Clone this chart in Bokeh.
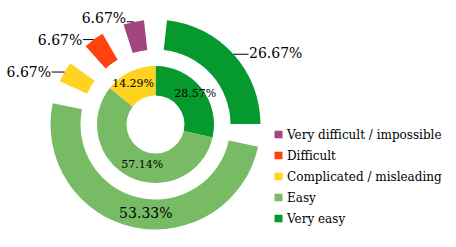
import math
from bokeh.plotting import figure
from bokeh.models import Range1d, ColumnDataSource
from bokeh.embed import file_html
from bokeh.resources import INLINE
from bokeh.core.properties import value

# ---- data ----
categories = ["Very easy", "Easy", "Complicated / misleading", "Difficult",
              "Very difficult / impossible"]
colors = ["#069A2E", "#77BC65", "#FFD320", "#FF420E", "#A1467E"]
inner_values = [28.57, 57.14, 14.29, 0.0, 0.0]
outer_values = [26.67, 53.33, 6.67, 6.67, 6.67]
inner_labels = ["28.57%", "57.14%", "14.29%", "", ""]
outer_labels = ["26.67%", "53.33%", "6.67%", "6.67%", "6.67%"]
legend_order = [4, 3, 2, 1, 0]

# ---- style / layout ----
W, H = 448, 239
FONT = "DejaVu Serif"
CX, CY = 155, 247 - 124          # donut centre (data units == pixels)
IN_R0, IN_R1 = 29, 58.5
OUT_R0, OUT_R1 = 75, 105
PAD = 6.3                         # degrees trimmed from each side of outer slices
leader_len = [15, 0, 13, 11, 7]
label_dy = [1.5, 0, 0, 0, 4]
inside_outer = [False, True, False, False, False]
inner_nudge = [(3, 1.5), (7, 2), (-2, -1), (0, 0), (0, 0)]
outer_nudge = [(0, 0), (9, 0), (0, 0), (0, 0), (0, 0)]

p = figure(width=W, height=H, output_backend="svg", toolbar_location=None,
           x_range=Range1d(0, W), y_range=Range1d(247 - H, 247),
           min_border=0, outline_line_color=None)
p.axis.visible = False
p.grid.visible = False
p.background_fill_color = "white"


def bokeh_angle(theta_deg):
    # clockwise-from-top degrees -> bokeh radians (ccw from +x)
    return math.radians(90 - theta_deg)


def ring(values, pad):
    total = sum(values)
    acc = 0.0
    out = []
    for v in values:
        t0 = acc / total * 360
        acc += v
        t1 = acc / total * 360
        out.append((t0, t1, t0 + pad, t1 - pad))
    return out


# inner ring
inner = ring(inner_values, 0)
src_in = ColumnDataSource(dict(
    start=[bokeh_angle(s[3]) for s, v in zip(inner, inner_values) if v > 0],
    end=[bokeh_angle(s[2]) for s, v in zip(inner, inner_values) if v > 0],
    color=[c for c, v in zip(colors, inner_values) if v > 0]))
p.annular_wedge(x=CX, y=CY, inner_radius=IN_R0, outer_radius=IN_R1,
                start_angle="start", end_angle="end", color="color",
                line_color=None, source=src_in)

# outer ring
outer = ring(outer_values, PAD)
src_out = ColumnDataSource(dict(
    start=[bokeh_angle(s[3]) for s in outer],
    end=[bokeh_angle(s[2]) for s in outer],
    color=colors))
p.annular_wedge(x=CX, y=CY, inner_radius=OUT_R0, outer_radius=OUT_R1,
                start_angle="start", end_angle="end", color="color",
                line_color=None, source=src_out)

# inner labels
ix, iy, it = [], [], []
for i, (seg, lab) in enumerate(zip(inner, inner_labels)):
    if not lab:
        continue
    mid = math.radians((seg[0] + seg[1]) / 2)
    ix.append(CX + 47 * math.sin(mid) + inner_nudge[i][0])
    iy.append(CY + 47 * math.cos(mid) + inner_nudge[i][1])
    it.append(lab)
p.text(x=ix, y=iy, text=it, text_font=value(FONT), text_font_size="11px",
       text_align="center", text_baseline="middle", text_color="black")

# outer labels
for i, (seg, lab) in enumerate(zip(outer, outer_labels)):
    mid = math.radians((seg[0] + seg[1]) / 2)
    if inside_outer[i]:
        x = CX + 90 * math.sin(mid) + outer_nudge[i][0]
        y = CY + 90 * math.cos(mid) + outer_nudge[i][1]
        p.text(x=[x], y=[y], text=[lab], text_font=value(FONT),
               text_font_size="14px", text_align="center",
               text_baseline="middle", text_color="black")
        continue
    ax = CX + OUT_R1 * math.sin(mid)
    ay = CY + OUT_R1 * math.cos(mid)
    side = 1 if math.sin(mid) >= 0 else -1
    ex = ax + side * leader_len[i]
    p.line(x=[ax, ex], y=[ay, ay], line_color="black", line_width=1)
    p.text(x=[ex + side * 0.5], y=[ay + label_dy[i]], text=[lab],
           text_font=value(FONT), text_font_size="14px",
           text_align="left" if side > 0 else "right",
           text_baseline="middle", text_color="black")

# legend
lx, ly0, lstep = 278, 247 - 134, 21
sq_x, sq_y, tx, ty, tt, tc = [], [], [], [], [], []
for k, idx in enumerate(legend_order):
    y = ly0 - k * lstep
    sq_x.append(lx)
    sq_y.append(y)
    tc.append(colors[idx])
    tx.append(lx + 8.5)
    ty.append(y)
    tt.append(categories[idx])
p.rect(x=sq_x, y=sq_y, width=8, height=7.5, color=tc, line_color=None)
p.text(x=tx, y=ty, text=tt, text_font=value(FONT), text_font_size="12px",
       text_align="left", text_baseline="middle", text_color="black")

open("out.html", "w").write(file_html(p, INLINE))
